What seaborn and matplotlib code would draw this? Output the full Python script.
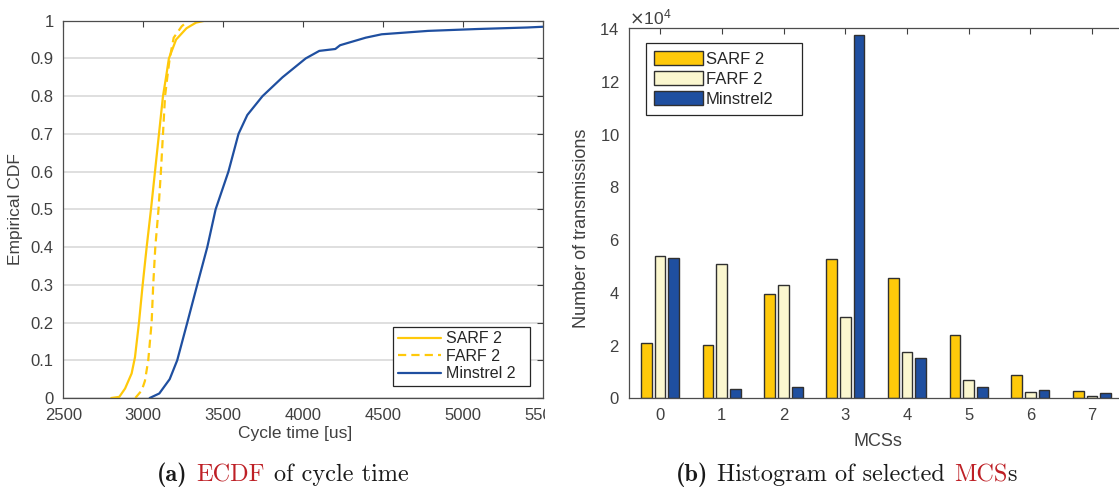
import numpy as np
import pandas as pd
import matplotlib
matplotlib.use("Agg")
import matplotlib.pyplot as plt
import seaborn as sns
from matplotlib.ticker import ScalarFormatter, FuncFormatter
from matplotlib.transforms import Bbox, TransformedBbox
from matplotlib.offsetbox import TextArea, HPacker, AnnotationBbox

sns.set_theme(style="white")
plt.rcParams['font.family'] = ['Liberation Sans', 'DejaVu Sans']
plt.rcParams['axes.unicode_minus'] = False

# ECDF of cycle time
sarf_time = [2800, 2850, 2886, 2927, 2948, 2973, 2996, 3021, 3048, 3073, 3098, 3123, 3142, 3160, 3205, 3270, 3330, 3385]
sarf_cdf = [0, 0.003, 0.025, 0.065, 0.108, 0.2, 0.3, 0.4, 0.5, 0.6, 0.7, 0.8, 0.85, 0.9, 0.95, 0.98, 0.995, 1.0]
farf_time = [2950, 2990, 3010, 3031, 3052, 3062, 3075, 3095, 3110, 3123, 3136, 3150, 3165, 3190, 3240, 3280]
farf_cdf = [0, 0.02, 0.045, 0.1, 0.2, 0.3, 0.4, 0.5, 0.6, 0.7, 0.8, 0.85, 0.9, 0.955, 0.985, 1.0]
minstrel_time = [3040, 3100, 3165, 3212, 3275, 3337, 3400, 3452, 3532, 3595, 3650, 3745, 3870, 4015, 4100,
                 4200, 4230, 4310, 4390, 4490, 4780, 5090, 5400, 5500]
minstrel_cdf = [0, 0.012, 0.05, 0.1, 0.2, 0.3, 0.4, 0.5, 0.6, 0.7, 0.75, 0.8, 0.85, 0.9, 0.92,
                0.925, 0.935, 0.945, 0.955, 0.964, 0.973, 0.978, 0.982, 0.984]

# histogram of selected MCSs
mcs = ["0", "1", "2", "3", "4", "5", "6", "7"]
sarf_count = [20800, 20200, 39300, 52500, 45600, 24000, 8700, 2800]
farf_count = [53800, 50700, 42700, 30600, 17300, 7000, 2100, 800]
minstrel_count = [53200, 3300, 4300, 137500, 15300, 4200, 3100, 1800]

yellow = "#FFC90A"
cream = "#FBF7CF"
blue = "#1F4FA0"
axcol = "#404040"

ecdf = pd.concat([
    pd.DataFrame({"time": sarf_time, "cdf": sarf_cdf, "alg": "SARF 2"}),
    pd.DataFrame({"time": farf_time, "cdf": farf_cdf, "alg": "FARF 2"}),
    pd.DataFrame({"time": minstrel_time, "cdf": minstrel_cdf, "alg": "Minstrel 2"}),
])
hist = pd.concat([
    pd.DataFrame({"MCS": mcs, "count": sarf_count, "alg": "SARF 2"}),
    pd.DataFrame({"MCS": mcs, "count": farf_count, "alg": "FARF 2"}),
    pd.DataFrame({"MCS": mcs, "count": minstrel_count, "alg": "Minstrel2"}),
])

W, H = 1119, 490
fig = plt.figure(figsize=(W / 100, H / 100), dpi=100)
ax1 = fig.add_axes([63.3 / W, 1 - 398 / H, 480 / W, 377.3 / H])
ax2 = fig.add_axes([629.2 / W, 1 - 398 / H, 493.8 / W, 369.5 / H])

# (a) ECDF
sns.lineplot(data=ecdf, x="time", y="cdf", hue="alg", style="alg",
             palette={"SARF 2": yellow, "FARF 2": yellow, "Minstrel 2": blue},
             dashes={"SARF 2": "", "FARF 2": (3.7, 2.3), "Minstrel 2": ""},
             estimator=None, sort=False, lw=1.6, ax=ax1)
ax1.set_xlim(2500, 5500)
ax1.set_ylim(0, 1)
ax1.set_xticks(np.arange(2500, 5501, 500))
ax1.set_yticks(np.arange(0, 1.01, 0.1))
ax1.yaxis.set_major_formatter(FuncFormatter(lambda v, p: "%g" % round(v, 1)))
ax1.yaxis.grid(True, color="#dcdcdc", lw=1.3)
ax1.set_axisbelow(True)
ax1.set_xlabel("Cycle time [us]", fontsize=12.5, color=axcol)
ax1.set_ylabel("Empirical CDF", fontsize=12.5, color=axcol)
ax1.xaxis.set_label_coords(0.483, -0.075)
ax1.yaxis.set_label_coords(-0.084, 0.5)
leg = ax1.get_legend()
handles, labels = leg.legend_handles, [t.get_text() for t in leg.get_texts()]
ax1.legend(handles, labels, loc="lower left", bbox_to_anchor=(393 / W, 1 - 386 / H, 137 / W, 58 / H),
           bbox_transform=fig.transFigure, mode="expand", borderaxespad=0, fontsize=11.5, frameon=True,
           fancybox=False, framealpha=1, edgecolor="#262626", handlelength=2.7,
           labelspacing=0.15, handletextpad=0.3, borderpad=0.3)
ax1.get_legend().get_frame().set_linewidth(0.9)

# (b) histogram
sns.barplot(data=hist, x="MCS", y="count", hue="alg",
            palette={"SARF 2": yellow, "FARF 2": cream, "Minstrel2": blue},
            saturation=1, width=0.666, gap=0.22, edgecolor="#303030", linewidth=1.0, ax=ax2)
ax2.set_xlim(-0.5, 7.5)
ax2.set_ylim(0, 140000)
ax2.set_yticks(np.arange(0, 140001, 20000))
fmt = ScalarFormatter(useMathText=True)
fmt.set_powerlimits((4, 4))
ax2.yaxis.set_major_formatter(fmt)
ax2.yaxis.get_offset_text().set_fontsize(12.5)
ax2.yaxis.get_offset_text().set_color(axcol)
ax2.set_xlabel("MCSs", fontsize=13, color=axcol)
ax2.set_ylabel("Number of transmissions", fontsize=13, color=axcol)
ax2.xaxis.set_label_coords(0.504, -0.095)
ax2.yaxis.set_label_coords(-0.079, 0.46)
leg = ax2.get_legend()
handles, labels = leg.legend_handles, [t.get_text() for t in leg.get_texts()]
ax2.legend(handles, labels, loc="upper left", bbox_to_anchor=(646 / W, 1 - 114 / H, 156 / W, 71 / H),
           bbox_transform=fig.transFigure, mode="expand", borderaxespad=0, fontsize=12, frameon=True,
           fancybox=False, framealpha=1, edgecolor="#262626", handlelength=2.9,
           handleheight=0.9, labelspacing=0.25, handletextpad=0.2, borderpad=0.5)
ax2.get_legend().get_frame().set_linewidth(0.9)

for ax in (ax1, ax2):
    ax.tick_params(direction="in", top=True, right=True, length=4, width=0.8,
                   color=axcol, labelcolor=axcol, labelsize=12)
    ax.tick_params(axis="x", pad=7)
    ax.tick_params(axis="y", pad=7)
    for s in ax.spines.values():
        s.set_color("#4d4d4d")
        s.set_linewidth(0.9)
        s.set_visible(True)
ax2.tick_params(right=False)

# the 5500 label is cut by the subfigure border
clip = TransformedBbox(Bbox.from_extents(0, 0, 545 / W, 1), fig.transFigure)
for lab in ax1.get_xticklabels():
    lab.set_clip_box(clip)
    lab.set_clip_on(True)


def caption(x, y, parts):
    boxes = []
    for word in parts:
        pieces = [TextArea(t, textprops=dict(fontfamily=f, color=c, fontsize=17.5)) for t, f, c in word]
        boxes.append(HPacker(children=pieces, align="baseline", pad=0, sep=0))
    pack = HPacker(children=boxes, align="baseline", pad=0, sep=6.5)
    ab = AnnotationBbox(pack, (x, y), xycoords="figure fraction", box_alignment=(0, 0), frameon=False)
    fig.add_artist(ab)


red = "#BE2026"
ink = "#1a1a1a"
caption(157 / W, 1 - 487 / H, [[("(a)", "cmb10", ink)], [("ECDF", "cmr10", red)],
                               [("of cycle time", "cmr10", ink)]])
caption(676 / W, 1 - 487 / H, [[("(b)", "cmb10", ink)], [("Histogram of selected", "cmr10", ink)],
                               [("MCS", "cmr10", red), ("s", "cmr10", ink)]])

fig.savefig("out.png", dpi=100)
